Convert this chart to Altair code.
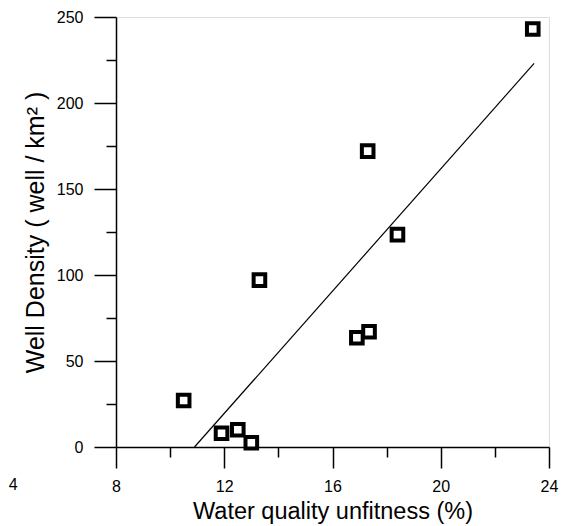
import altair as alt
import pandas as pd

# Values
water_unfitness = [10.5, 11.9, 12.5, 13.0, 13.3, 16.9, 17.35, 17.3, 18.4, 23.4]
well_density = [27, 8, 10, 2.5, 97, 63.5, 67, 172, 123.5, 243]
fit_x = [10.9, 23.45]
fit_y = [0, 223]
x_major = [8, 12, 16, 20, 24]
x_minor = [10, 14, 18, 22]
y_major = [0, 50, 100, 150, 200, 250]
y_minor = [25, 75, 125, 175, 225]
x_outside_tick = [4]
x_outside_text = ["4"]

pts = pd.DataFrame({"x": water_unfitness, "y": well_density})
fit = pd.DataFrame({"x": fit_x, "y": fit_y})
lab = pd.DataFrame({"x": x_outside_tick, "y": [0], "t": x_outside_text})

FONT = "Liberation Sans"
xscale = alt.Scale(domain=[8, 24], nice=False, zero=False)
yscale = alt.Scale(domain=[0, 250], nice=False)

x_axis = alt.Axis(values=x_major, orient="bottom", tickSize=21, labelPadding=10,
                  labelFontSize=16, labelFont=FONT, labelColor="black",
                  domainColor="black", tickColor="black", domainWidth=1.5,
                  tickWidth=1.5, grid=False, labelFlush=False,
                  title="Water quality unfitness (%)", titleFont=FONT,
                  titleFontSize=23.5, titleFontWeight="normal", titleColor="black",
                  titleBaseline="alphabetic", titleY=71, titleX=216.5,
                  titleAlign="center")
y_axis = alt.Axis(values=y_major, orient="left", tickSize=22, labelPadding=11,
                  labelFontSize=16, labelFont=FONT, labelColor="black",
                  domainColor="black", tickColor="black", domainWidth=1.5,
                  tickWidth=1.5, grid=False, labelFlush=False,
                  title="Well Density ( well / km² )", titleFont=FONT,
                  titleFontSize=25, titleFontWeight="normal", titleColor="black",
                  titleAngle=270, titleBaseline="alphabetic", titleX=-73,
                  titleY=215, titleAlign="center")

x_minor_axis = alt.Axis(values=x_minor, tickSize=10, labels=False, domain=False,
                        title="", orient="bottom", grid=False, tickWidth=1.5,
                        tickColor="black")
y_minor_axis = alt.Axis(values=y_minor, tickSize=10, labels=False, domain=False,
                        title="", orient="left", grid=False, tickWidth=1.5,
                        tickColor="black")

fit_layer = alt.Chart(fit).mark_line(color="black", strokeWidth=1.2).encode(
    x=alt.X("x:Q", scale=xscale, axis=None),
    y=alt.Y("y:Q", scale=yscale, axis=None),
)

pts_layer = alt.Chart(pts).mark_square(
    size=135, fill="white", stroke="black", strokeWidth=4, opacity=1
).encode(
    x=alt.X("x:Q", scale=xscale, axis=x_axis),
    y=alt.Y("y:Q", scale=yscale, axis=y_axis),
)

minor_layer = alt.Chart(pts).mark_point(opacity=0).encode(
    x=alt.X("x:Q", scale=xscale, axis=x_minor_axis),
    y=alt.Y("y:Q", scale=yscale, axis=y_minor_axis),
)

text_layer = alt.Chart(lab).mark_text(
    font=FONT, fontSize=16, color="black", dy=38, dx=1, baseline="middle",
    align="left"
).encode(
    x=alt.X("x:Q", scale=xscale, axis=None),
    y=alt.Y("y:Q", scale=yscale, axis=None),
    text="t:N",
)

chart = alt.layer(pts_layer, minor_layer, fit_layer, text_layer).resolve_axis(
    x="independent", y="independent"
).properties(
    width=433, height=430,
    autosize=alt.AutoSizeParams(type="none"),
    padding={"left": 108, "top": 9, "right": 10, "bottom": 78},
).configure_view(stroke="black", strokeWidth=1.5).configure(background="white")

chart.save("out.html", embed_options={"renderer": "svg", "actions": False})
